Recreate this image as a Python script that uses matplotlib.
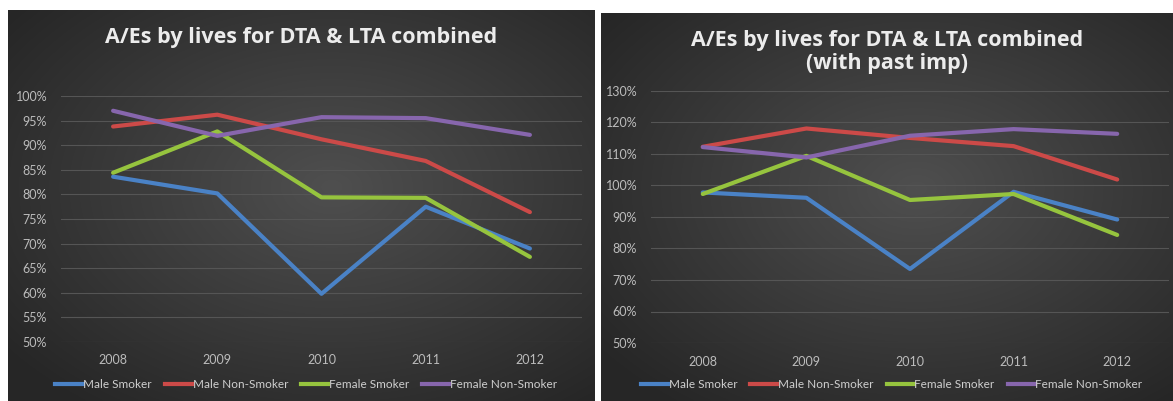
import matplotlib
matplotlib.use("Agg")
import matplotlib.pyplot as plt
import numpy as np
from matplotlib.lines import Line2D

years = ["2008", "2009", "2010", "2011", "2012"]
series_names = ["Male Smoker", "Male Non-Smoker", "Female Smoker", "Female Non-Smoker"]
colors = ["#4a82c6", "#cc4a48", "#96c43e", "#8766ad"]

# A/Es without past improvement (%)
left_male_smoker = [83.6, 80.2, 59.8, 77.5, 69.0]
left_male_nonsmoker = [93.8, 96.2, 91.2, 86.8, 76.4]
left_female_smoker = [84.4, 92.8, 79.4, 79.3, 67.3]
left_female_nonsmoker = [97.0, 91.9, 95.7, 95.5, 92.1]

# A/Es with past improvement (%)
right_male_smoker = [97.8, 96.1, 73.5, 98.0, 89.2]
right_male_nonsmoker = [112.3, 118.1, 115.1, 112.5, 101.9]
right_female_smoker = [97.3, 109.4, 95.4, 97.3, 84.3]
right_female_nonsmoker = [112.2, 108.9, 115.8, 117.9, 116.4]

left_title = "A/Es by lives for DTA & LTA combined"
right_title = "A/Es by lives for DTA & LTA combined\n(with past imp)"

font = ["Lato", "DejaVu Sans"]
plt.rcParams["font.family"] = font

fig = plt.figure(figsize=(11.73, 4.01), dpi=100)
fig.patch.set_facecolor("white")


def gradient_panel(rect):
    bg = fig.add_axes(rect)
    ny, nx = 200, 300
    yy, xx = np.mgrid[0:ny, 0:nx]
    cx, cy = nx * 0.55, ny * 0.45
    d = np.sqrt(((xx - cx) / nx) ** 2 + ((yy - cy) / ny) ** 2)
    d = np.clip(d / 0.7, 0, 1)
    val = 0.31 - 0.16 * d
    img = np.dstack([val, val, val])
    bg.imshow(img, aspect="auto", extent=[0, 1, 0, 1], interpolation="bilinear")
    bg.set_axis_off()
    return bg


def draw_chart(rect_bg, rect_ax, data, ylim, ystep, title, title_y):
    gradient_panel(rect_bg)
    ax = fig.add_axes(rect_ax)
    ax.patch.set_alpha(0)
    x = np.arange(len(years))
    for vals, c in zip(data, colors):
        ax.plot(x, vals, color=c, lw=3.0, solid_capstyle="round", solid_joinstyle="round")
    ax.set_xlim(-0.5, len(years) - 0.5)
    ax.set_ylim(*ylim)
    ticks = np.arange(ylim[0], ylim[1] + 0.1, ystep)
    ax.set_yticks(ticks)
    ax.set_yticklabels([f"{int(t)}%" for t in ticks])
    ax.set_xticks(x)
    ax.set_xticklabels(years)
    ax.tick_params(colors="#bcbcbc", labelsize=9, length=0)
    ax.tick_params(axis="x", pad=9)
    ax.tick_params(axis="y", pad=10)
    ax.grid(axis="y", color="#555555", lw=0.8)
    ax.set_axisbelow(True)
    for s in ax.spines.values():
        s.set_visible(False)
    cx = rect_bg[0] + rect_bg[2] / 2
    fig.text(cx, title_y, title, ha="center", va="center", color="#ececec",
             fontsize=15.5, fontweight="bold", linespacing=1.1,
             family=["Open Sans", "DejaVu Sans"])
    handles = [Line2D([0], [0], color=c, lw=3) for c in colors]
    fig.legend(handles, series_names, loc="center", bbox_to_anchor=(cx + 0.004, 0.04),
               ncol=4, frameon=False, fontsize=8.5, labelcolor="#cfcfcf",
               handlelength=2.3, handletextpad=0.05, columnspacing=1.1)
    return ax


draw_chart([8 / 1173, 0, 587 / 1173, 391 / 401],
           [61 / 1173, 59 / 401, 521 / 1173, 246 / 401],
           [left_male_smoker, left_male_nonsmoker, left_female_smoker, left_female_nonsmoker],
           (50, 100), 5, left_title, 1 - 37 / 401)

draw_chart([601 / 1173, 0, 572 / 1173, 388 / 401],
           [651 / 1173, 58 / 401, 518 / 1173, 252 / 401],
           [right_male_smoker, right_male_nonsmoker, right_female_smoker, right_female_nonsmoker],
           (50, 130), 10, right_title, 1 - 52 / 401)

fig.savefig("out.png", dpi=100, facecolor="white")
